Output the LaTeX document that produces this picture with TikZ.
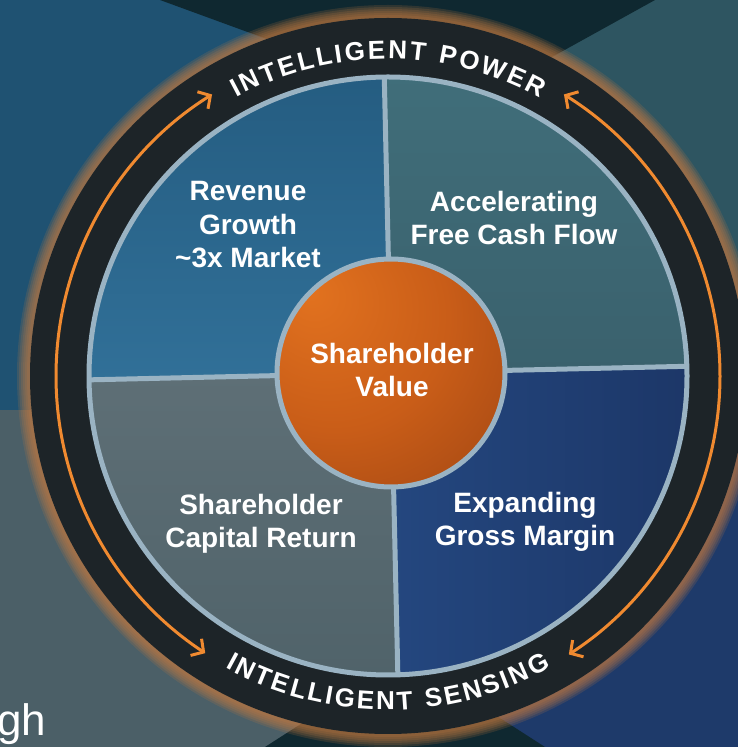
\documentclass[tikz,border=0pt]{standalone}
\usepackage{fontspec}
\setmainfont{Liberation Sans}
\usetikzlibrary{calc,arrows.meta,decorations.text}

\definecolor{bgtl}{HTML}{1F5272}
\definecolor{bgtr}{HTML}{2E5561}
\definecolor{bgbl}{HTML}{4B5F67}
\definecolor{bgbr}{HTML}{1E3A6A}
\definecolor{bgdark}{HTML}{0F2830}
\definecolor{glowc}{HTML}{C47A40}
\definecolor{ringdark}{HTML}{1D2428}
\definecolor{rim}{HTML}{9AB3C3}
\definecolor{tlA}{HTML}{235A7E}
\definecolor{tlB}{HTML}{317098}
\definecolor{trA}{HTML}{41707C}
\definecolor{trB}{HTML}{3A616D}
\definecolor{blA}{HTML}{5E6F76}
\definecolor{blB}{HTML}{4E6168}
\definecolor{brA}{HTML}{1B3464}
\definecolor{brB}{HTML}{24477F}
\definecolor{flow}{HTML}{F08A30}
\definecolor{coreA}{HTML}{E2721F}
\definecolor{coreB}{HTML}{C95D18}
\definecolor{coreC}{HTML}{9A4212}
\definecolor{coreD}{HTML}{632A0B}

\pgfdeclareradialshading{coreglow}{\pgfpoint{-18bp}{18bp}}{%
  color(0bp)=(coreA); color(25bp)=(coreB); color(52bp)=(coreC); color(80bp)=(coreD)}

\newcommand{\ringfont}{\fontsize{26}{26}\selectfont\bfseries}

\tikzset{
  quad/.style={text=white, align=center, inner sep=0pt,
    font=\fontsize{28}{33.5}\selectfont\bfseries},
  rimline/.style={draw=rim, line width=5pt},
  flowarc/.style={draw=flow, line width=3pt,
    {Straight Barb[length=9pt,width=20pt]}-{Straight Barb[length=9pt,width=20pt]}},
  ringtext/.style={decorate, decoration={text along path, text align=center,
    text color=white, text={#1}}}
}

\begin{document}
\begin{tikzpicture}[x=1pt,y=1pt]
    \useasboundingbox (0,0) rectangle (738,747);
    \coordinate (C) at (388,371);
    \coordinate (K) at (391,374);

    % slide background
    \fill[bgtl] (0,337) rectangle (400,747);
    \fill[bgtr] (400,380) rectangle (738,747);
    \fill[bgbl] (0,0) rectangle (400,337);
    \fill[bgbr] (400,0) rectangle (738,380);
    \fill[bgdark] (160,747) -- (655,747) -- (458,638) -- cycle;
    \fill[bgdark] (265,0) -- (545,0) -- (405,90) -- cycle;

    \foreach \w in {26,22,18,14,10,6}
        \draw[glowc, opacity=0.18, line width=\w pt] (C) circle (358);
    \fill[ringdark] (C) circle (358);

    \begin{scope}
        \clip (C) circle (299);
        \shade[top color=tlA, bottom color=tlB, rotate around={1.3:(K)}]
            (K) rectangle ++(-340,340);
        \shade[top color=trA, bottom color=trB, rotate around={1.3:(K)}]
            (K) rectangle ++(340,340);
        \shade[top color=blA, bottom color=blB, rotate around={1.3:(K)}]
            (K) rectangle ++(-340,-340);
        \shade[left color=brB, right color=brA, rotate around={1.3:(K)}]
            (K) rectangle ++(340,-340);
        \draw[rimline, rotate around={1.3:(K)}]
            ($(K)+(-340,0)$) -- ($(K)+(340,0)$)
            ($(K)+(0,-340)$) -- ($(K)+(0,340)$);
    \end{scope}
    \draw[rimline] (C) circle (299);

    \shade[shading=coreglow] (K) circle (114);
    \draw[rimline] (K) circle (114);

    \node[quad] (core) at (392,377) {Shareholder\\Value};
    \node[quad] (rev) at (248,522) {Revenue\\Growth\\\textasciitilde3x Market};
    \node[quad] (fcf) at (514,529) {Accelerating\\Free Cash Flow};
    \node[quad] (ret) at (261,223) {Shareholder\\Capital Return};
    \node[quad] (gm) at (525,225) {Expanding\\Gross Margin};

    % lettering on the dark ring
    \path[ringtext={|\ringfont|{I\kern2.5pt}{N\kern2.5pt}{T\kern2.5pt}{E\kern2.5pt}{L\kern2.5pt}{L\kern2.5pt}{I\kern2.5pt}{G\kern2.5pt}{E\kern2.5pt}{N\kern2.5pt}{T\kern13pt}{P\kern2.5pt}{O\kern2.5pt}{W\kern2.5pt}{E\kern2.5pt}{R}}]
        ($(C)+(130:317)$) arc[start angle=130, end angle=50, radius=317];
    \path[ringtext={|\ringfont|{I\kern2.5pt}{N\kern2.5pt}{T\kern2.5pt}{E\kern2.5pt}{L\kern2.5pt}{L\kern2.5pt}{I\kern2.5pt}{G\kern2.5pt}{E\kern2.5pt}{N\kern2.5pt}{T\kern13pt}{S\kern2.5pt}{E\kern2.5pt}{N\kern2.5pt}{S\kern2.5pt}{I\kern2.5pt}{N\kern2.5pt}{G}}]
        ($(C)+(230:334)$) arc[start angle=230, end angle=310, radius=334];

    \coordinate (tl) at ($(C)+(122:332)$);
    \coordinate (bl) at ($(C)+(236.6:332)$);
    \coordinate (tr) at ($(C)+(58:332)$);
    \coordinate (br) at ($(C)+(-57:332)$);
    \draw[flowarc] (tl) arc[start angle=122, end angle=236.6, radius=332];
    \draw[flowarc] (tr) arc[start angle=58, end angle=-57, radius=332];

    \node[anchor=base west, inner sep=0pt, text=white,
        font=\fontsize{44}{44}\selectfont] (gh) at (-3,12) {gh};
\end{tikzpicture}
\end{document}
